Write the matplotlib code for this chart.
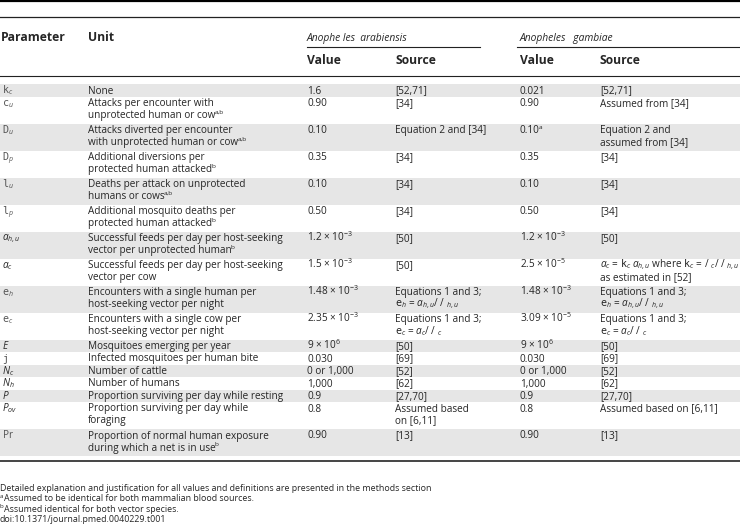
import matplotlib
matplotlib.use("Agg")
import matplotlib.pyplot as plt
from matplotlib.patches import Rectangle

plt.rcParams['font.family'] = ['Open Sans', 'DejaVu Sans']
plt.rcParams['mathtext.fontset'] = 'custom'
plt.rcParams['mathtext.rm'] = 'Open Sans'
plt.rcParams['mathtext.it'] = 'Open Sans:italic'
plt.rcParams['mathtext.bf'] = 'Open Sans:bold'
plt.rcParams['mathtext.tt'] = 'DejaVu Sans Mono'

# table content ("|" marks a footnote superscript at the end of a line)
params = [r'$\mathtt{k}_c$', r'$\mathtt{c}_u$', r'$\mathtt{D}_u$', r'$\mathtt{D}_p$',
          r'$\mathtt{l}_u$', r'$\mathtt{l}_p$', r'$a_{h,u}$', r'$a_c$',
          r'$\mathtt{e}_h$', r'$\mathtt{e}_c$', r'$E$', r'$\mathtt{j}$',
          r'$N_c$', r'$N_h$', r'$P$', r'$P_{ov}$', r'$\mathrm{Pr}$']

units = ['None',
         'Attacks per encounter with\nunprotected human or cow|a,b',
         'Attacks diverted per encounter\nwith unprotected human or cow|a,b',
         'Additional diversions per\nprotected human attacked|b',
         'Deaths per attack on unprotected\nhumans or cows|a,b',
         'Additional mosquito deaths per\nprotected human attacked|b',
         'Successful feeds per day per host-seeking\nvector per unprotected human|b',
         'Successful feeds per day per host-seeking\nvector per cow',
         'Encounters with a single human per\nhost-seeking vector per night',
         'Encounters with a single cow per\nhost-seeking vector per night',
         'Mosquitoes emerging per year',
         'Infected mosquitoes per human bite',
         'Number of cattle',
         'Number of humans',
         'Proportion surviving per day while resting',
         'Proportion surviving per day while\nforaging',
         'Proportion of normal human exposure\nduring which a net is in use|b']

arab_values = ['1.6', '0.90', '0.10', '0.35', '0.10', '0.50',
               r'1.2 $\times$ 10$^{-3}$', r'1.5 $\times$ 10$^{-3}$',
               r'1.48 $\times$ 10$^{-3}$', r'2.35 $\times$ 10$^{-3}$',
               r'9 $\times$ 10$^{6}$', '0.030', '0 or 1,000', '1,000', '0.9', '0.8', '0.90']

eh_src = 'Equations 1 and 3;\n$\\mathtt{e}_h$ = $a_{h,u}$/ / ${}_{h,u}$'
ec_src = 'Equations 1 and 3;\n$\\mathtt{e}_c$ = $a_c$/ / ${}_c$'

arab_sources = ['[52,71]', '[34]', 'Equation 2 and [34]', '[34]', '[34]', '[34]',
                '[50]', '[50]', eh_src, ec_src, '[50]', '[69]', '[52]', '[62]',
                '[27,70]', 'Assumed based\non [6,11]', '[13]']

gamb_values = ['0.021', '0.90', '0.10|a', '0.35', '0.10', '0.50',
               r'1.2 $\times$ 10$^{-3}$', r'2.5 $\times$ 10$^{-5}$',
               r'1.48 $\times$ 10$^{-3}$', r'3.09 $\times$ 10$^{-5}$',
               r'9 $\times$ 10$^{6}$', '0.030', '0 or 1,000', '1,000', '0.9', '0.8', '0.90']

gamb_sources = ['[52,71]', 'Assumed from [34]', 'Equation 2 and\nassumed from [34]',
                '[34]', '[34]', '[34]', '[50]',
                '$a_c$ = $\\mathtt{k}_c$ $a_{h,u}$ where $\\mathtt{k}_c$ = / ${}_c$/ / ${}_{h,u}$\nas estimated in [52]',
                eh_src, ec_src, '[50]', '[69]', '[52]', '[62]', '[27,70]',
                'Assumed based on [6,11]', '[13]']

foot_marks = ['', 'a', 'b', '']
footnotes = ['Detailed explanation and justification for all values and definitions are presented in the methods section',
             'Assumed to be identical for both mammalian blood sources.',
             'Assumed identical for both vector species.',
             'doi:10.1371/journal.pmed.0040229.t001']

W, H = 740, 529
fig = plt.figure(figsize=(W / 100, H / 100), dpi=100)
ax = fig.add_axes([0, 0, 1, 1])
ax.set_xlim(0, W)
ax.set_ylim(H, 0)
ax.axis('off')
renderer = fig.canvas.get_renderer()

txt = '#262626'
fs = 7.2
hfs = 8.7
cols = [2, 88, 307, 395, 520, 600]


def put(x, y, line, color=txt, size=fs):
    main, _, mark = line.partition('|')
    t = ax.text(x, y, main, fontsize=size, color=color, va='baseline')
    if mark:
        x1 = t.get_window_extent(renderer).x1
        ax.text(x1 - 0.8, y - 4, mark, fontsize=size * 0.65, color=color, va='baseline')


# header
ax.plot([0, W], [1, 1], color='black', lw=1.6)
ax.plot([0, W], [17, 17], color='#222222', lw=0.9)
ax.text(cols[0] - 1, 41, 'Parameter', fontsize=hfs, fontweight='bold', color=txt)
ax.text(cols[1], 41, 'Unit', fontsize=hfs, fontweight='bold', color=txt)
ax.text(cols[2], 41, 'Anophe les  arabiensis', fontsize=7.4, style='italic', color=txt)
ax.text(cols[4], 41, 'Anopheles   gambiae', fontsize=7.4, style='italic', color=txt)
ax.plot([307, 480], [47, 47], color='#222222', lw=0.8)
ax.plot([517, W], [47, 47], color='#222222', lw=0.8)
for c in cols[2:]:
    label = 'Value' if c in (cols[2], cols[4]) else 'Source'
    ax.text(c, 64, label, fontsize=hfs, fontweight='bold', color=txt)
ax.plot([0, W], [76, 76], color='#222222', lw=0.8)

# body rows
top = 84
for i in range(len(params)):
    cells = [params[i], units[i], arab_values[i], arab_sources[i], gamb_values[i], gamb_sources[i]]
    nlines = max(c.count('\n') + 1 for c in cells)
    h = 12.5 if nlines == 1 else 27
    if i % 2 == 0:
        ax.add_patch(Rectangle((0, top), W, h, facecolor='#e6e6e6', edgecolor='none'))
    for x, cell in zip(cols, cells):
        for k, line in enumerate(cell.split('\n')):
            col = '#555555' if (x == cols[0] and ('mathtt' in line or 'Pr' in line)) else txt
            put(x, top + 9.5 + 12 * k, line, color=col)
    top += h

ax.plot([0, W], [top + 5, top + 5], color='#444444', lw=1.4)

for k, note in enumerate(footnotes):
    y = top + 35 + 10.4 * k
    x = 0
    if foot_marks[k]:
        ax.text(0, y - 3.5, foot_marks[k], fontsize=4.5, color=txt, va='baseline')
        x = 4
    ax.text(x, y, note, fontsize=6.4, color=txt, va='baseline')

fig.savefig('out.png', dpi=100)
